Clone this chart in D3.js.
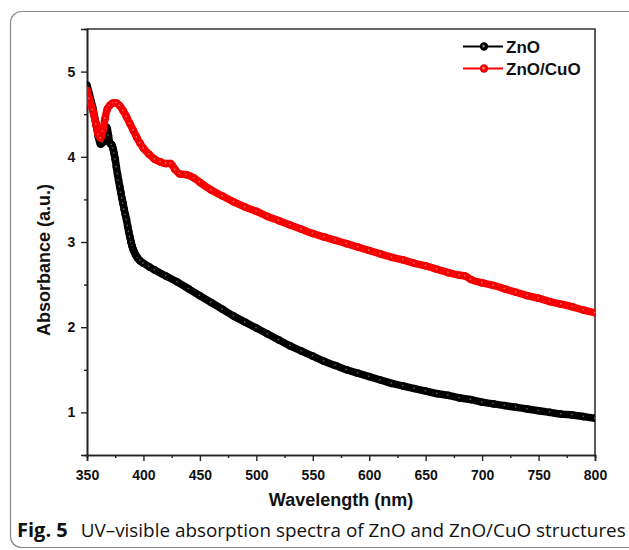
<!DOCTYPE html>
<html><head><meta charset="utf-8">
<script src="https://cdn.jsdelivr.net/npm/d3@7"></script>
<style>body{margin:0;background:#fff}svg{display:block}</style>
</head><body>
<svg id="c" width="629" height="550"></svg>
<script>
// ---- data ----
const znoWl = [350,352,355,358,360,362,364,366,367,368,369,370,371,372,373,374,375,376,377,378,379,380,381,382,383,384,385,386,387,388,389,390,391,392,393,394,395,397,400,405,410,420,430,440,450,460,470,480,490,500,510,520,530,540,550,560,570,580,590,600,610,620,630,640,650,660,670,680,690,700,710,720,730,740,750,760,770,780,790,800];
const znoAbs = [4.84,4.74,4.58,4.38,4.24,4.15,4.17,4.25,4.35,4.33,4.25,4.17,4.15,4.14,4.10,4.04,3.97,3.88,3.80,3.72,3.65,3.58,3.51,3.45,3.38,3.32,3.26,3.19,3.12,3.06,3.00,2.95,2.91,2.88,2.85,2.83,2.81,2.78,2.75,2.71,2.67,2.60,2.53,2.45,2.37,2.29,2.21,2.13,2.06,1.99,1.92,1.85,1.78,1.72,1.66,1.60,1.55,1.50,1.46,1.42,1.38,1.34,1.31,1.28,1.25,1.22,1.20,1.17,1.15,1.12,1.10,1.08,1.06,1.04,1.02,1.00,0.98,0.97,0.95,0.93];
const cuoWl = [350,352,355,358,360,362,364,366,368,370,373,376,379,382,385,388,391,394,397,400,405,410,415,420,424,428,432,438,445,450,460,470,480,490,500,510,520,530,540,550,560,570,580,590,600,610,620,630,640,650,660,670,680,685,690,700,710,720,730,740,750,760,770,780,790,800];
const cuoAbs = [4.78,4.68,4.55,4.38,4.26,4.22,4.30,4.45,4.56,4.60,4.63,4.63,4.60,4.54,4.47,4.39,4.31,4.23,4.16,4.10,4.03,3.97,3.94,3.92,3.92,3.85,3.80,3.79,3.75,3.70,3.61,3.54,3.47,3.41,3.36,3.30,3.25,3.20,3.15,3.10,3.06,3.02,2.98,2.94,2.90,2.86,2.82,2.79,2.75,2.72,2.68,2.64,2.61,2.60,2.56,2.52,2.49,2.45,2.41,2.37,2.34,2.30,2.27,2.24,2.20,2.17];
const xTicks = [350,400,450,500,550,600,650,700,750,800];
const yTicks = [1,2,3,4,5];
const seriesNames = ["ZnO","ZnO/CuO"];
const seriesColors = ["#000000","#ff0000"];

const svg = d3.select("#c");
const L = 87, R = 595, T = 29, B = 455;
const x = d3.scaleLinear().domain([350,800]).range([L,R]);
const y = d3.scaleLinear().domain([0.5,5.5]).range([B,T]);

// outer rounded frame
svg.append("rect").attr("x",10.5).attr("y",11.5).attr("width",630).attr("height",536)
  .attr("rx",11).attr("fill","none").attr("stroke","#8a8a8a").attr("stroke-width",1.2);

// gradients for markers
const defs = svg.append("defs");
[["gk","#7a7a7a","#000"],["gr","#ff8a8a","#f00000"]].forEach(([id,c0,c1])=>{
  const g = defs.append("radialGradient").attr("id",id).attr("cx","45%").attr("cy","45%").attr("r","55%");
  g.append("stop").attr("offset","0%").attr("stop-color",c0);
  g.append("stop").attr("offset","30%").attr("stop-color",c1);
  g.append("stop").attr("offset","100%").attr("stop-color",c1);
});
[["gkl","#b0b0b0","#000"],["grl","#ffc0c0","#f00000"]].forEach(([id,c0,c1])=>{
  const g = defs.append("radialGradient").attr("id",id).attr("cx","45%").attr("cy","45%").attr("r","55%");
  g.append("stop").attr("offset","0%").attr("stop-color",c0);
  g.append("stop").attr("offset","45%").attr("stop-color",c1);
  g.append("stop").attr("offset","100%").attr("stop-color",c1);
});

// frame top/right
svg.append("path").attr("d",`M${L},${T}H${R}V${B}`).attr("fill","none").attr("stroke","#333").attr("stroke-width",1.6);

// axes
const font = "'Liberation Sans', Arial, sans-serif";
const xAx = svg.append("g").attr("transform",`translate(0,${B})`)
  .call(d3.axisBottom(x).tickValues(xTicks).tickSize(6).tickFormat(d3.format("d")));
const xMinor = svg.append("g").attr("transform",`translate(0,${B})`)
  .call(d3.axisBottom(x).tickValues(d3.range(375,800,50)).tickSize(3).tickFormat(""));
const yAx = svg.append("g").attr("transform",`translate(${L},0)`)
  .call(d3.axisLeft(y).tickValues(yTicks).tickSize(6).tickFormat(d3.format("d")));
const yMinor = svg.append("g").attr("transform",`translate(${L},0)`)
  .call(d3.axisLeft(y).tickValues([1.5,2.5,3.5,4.5]).tickSize(3).tickFormat(""));
[xAx,xMinor,yAx,yMinor].forEach(g=>{
  g.selectAll(".domain").attr("stroke","#222").attr("stroke-width",1.6);
  g.selectAll(".tick line").attr("stroke","#222").attr("stroke-width",1.4);
  g.selectAll("text").attr("font-family",font).attr("font-weight","bold").attr("font-size",14).attr("fill","#111");
});
xAx.selectAll("text").attr("dy","1.15em");
yAx.selectAll("text").attr("dx","-0.2em");

// axis titles
svg.append("text").attr("x",(L+R)/2).attr("y",506).attr("text-anchor","middle")
  .attr("font-family",font).attr("font-weight","bold").attr("font-size",18).attr("fill","#111").text("Wavelength (nm)");
svg.append("text").attr("transform",`translate(50,${(T+B)/2+18}) rotate(-90)`).attr("text-anchor","middle")
  .attr("font-family",font).attr("font-weight","bold").attr("font-size",18).attr("fill","#111").text("Absorbance (a.u.)");

// series
const series = [
  {wl:cuoWl, ab:cuoAbs, color:seriesColors[1], grad:"url(#gr)"},
  {wl:znoWl, ab:znoAbs, color:seriesColors[0], grad:"url(#gk)"}
];
const line = d3.line().x(d=>x(d[0])).y(d=>y(d[1])).curve(d3.curveMonotoneX);
const clip = defs.append("clipPath").attr("id","pc");
clip.append("rect").attr("x",L).attr("y",T).attr("width",R-L).attr("height",B-T);
const plot = svg.append("g").attr("clip-path","url(#pc)");
[series[1], series[0]].forEach(s=>{
  const pts = s.wl.map((w,i)=>[w,s.ab[i]]);
  plot.append("path").datum(pts).attr("d",line).attr("fill","none")
    .attr("stroke",s.color).attr("stroke-width",7.5).attr("stroke-linejoin","round").attr("stroke-linecap","round");
  plot.selectAll(null).data(pts).enter().append("circle")
    .attr("cx",d=>x(d[0])).attr("cy",d=>y(d[1])).attr("r",3.8).attr("fill",s.grad);
});

// legend
const leg = svg.append("g");
[0,1].forEach(i=>{
  const yy = 46.5 + i*22;
  leg.append("line").attr("x1",463).attr("x2",503).attr("y1",yy).attr("y2",yy).attr("stroke",seriesColors[i]).attr("stroke-width",2);
  leg.append("circle").attr("cx",484).attr("cy",yy).attr("r",4.2).attr("fill",i===0?"url(#gkl)":"url(#grl)");
  leg.append("text").attr("x",506).attr("y",yy+6).attr("font-family",font).attr("font-weight","bold")
    .attr("font-size",17).attr("fill","#111").text(seriesNames[i]);
});

// caption
const cap = svg.append("text").attr("x",17).attr("y",537).attr("font-family","'Open Sans', 'Noto Sans', sans-serif")
  .attr("font-size",19).attr("fill","#111");
cap.append("tspan").attr("font-weight","bold").attr("font-size",20).text("Fig. 5");
cap.append("tspan").attr("dx",13).attr("textLength",545).attr("lengthAdjust","spacingAndGlyphs")
  .text("UV\u2013visible absorption spectra of ZnO and ZnO/CuO structures");
</script>
</body></html>
